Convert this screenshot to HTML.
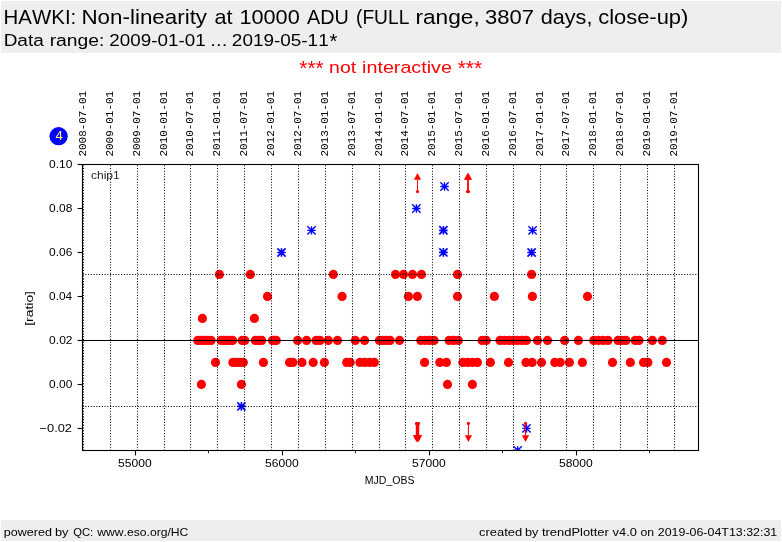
<!DOCTYPE html>
<html><head><meta charset="utf-8"><title>HAWKI: Non-linearity at 10000 ADU</title>
<style>html,body{margin:0;padding:0;background:#fff;}body{width:782px;height:542px;overflow:hidden;font-family:"Liberation Sans", sans-serif;}svg{display:block;will-change:transform;}text{font-family:"Liberation Sans", sans-serif;fill:#000;font-kerning:none;}.m{font-family:"Liberation Mono", monospace;}</style></head><body>
<svg width="782" height="542" viewBox="0 0 782 542">
<rect x="0" y="0" width="782" height="542" fill="#ffffff"/>
<rect x="1" y="1" width="780" height="52" fill="#eeeeee"/>
<rect x="1" y="520" width="780" height="21" fill="#eeeeee"/>
<text transform="translate(3.61 23.80) scale(1.0063 1.0000)" font-size="20.30">HAWKI:</text>
<text transform="translate(81.45 23.80) scale(1.1024 1.0000)" font-size="20.30">Non-linearity</text>
<text transform="translate(214.38 23.80) scale(1.0639 1.0000)" font-size="20.30">at</text>
<text transform="translate(239.47 23.80) scale(1.0674 1.0000)" font-size="20.30">10000</text>
<text transform="translate(307.05 23.80) scale(0.9767 1.0000)" font-size="20.30">ADU</text>
<text transform="translate(356.00 23.80) scale(0.9457 1.0000)" font-size="20.30">(FULL</text>
<text transform="translate(415.43 23.80) scale(1.1176 1.0000)" font-size="20.30">range,</text>
<text transform="translate(485.07 23.80) scale(1.0844 1.0000)" font-size="20.30">3807</text>
<text transform="translate(540.68 23.80) scale(1.0671 1.0000)" font-size="20.30">days,</text>
<text transform="translate(598.17 23.80) scale(1.0810 1.0000)" font-size="20.30">close-up)</text>
<text transform="translate(3.63 45.60) scale(1.1921 1.0000)" font-size="15.95">Data</text>
<text transform="translate(49.64 45.60) scale(1.2118 1.0000)" font-size="15.95">range:</text>
<text transform="translate(109.26 45.60) scale(1.1833 1.0000)" font-size="15.95">2009-01-01</text>
<text transform="translate(210.25 45.60) scale(1.2875 1.0000)" font-size="15.95">...</text>
<text transform="translate(231.85 45.60) scale(1.1871 1.0000)" font-size="15.95">2019-05-11</text>
<text transform="translate(329.45 47.90) scale(1.0243 1.0000)" font-size="19.80">*</text>
<text transform="translate(329.09 73.40) scale(1.2205 1.0000)" font-size="15.95" style="fill:#ff0000">not</text>
<text transform="translate(362.07 73.40) scale(1.2363 1.0000)" font-size="15.95" style="fill:#ff0000">interactive</text>
<text transform="translate(299.34 75.30) scale(1.0073 1.0000)" font-size="20.60" style="fill:#ff0000">***</text>
<text transform="translate(457.63 75.30) scale(1.0202 1.0000)" font-size="20.60" style="fill:#ff0000">***</text>
<text transform="translate(3.78 535.70) scale(1.0835 1.0000)" font-size="11.60">powered</text>
<text transform="translate(54.96 535.70) scale(1.1087 1.0000)" font-size="11.60">by</text>
<text transform="translate(73.17 535.70) scale(0.9672 1.0000)" font-size="11.60">QC:</text>
<text transform="translate(97.23 535.70) scale(1.0482 1.0000)" font-size="11.60">www.eso.org/HC</text>
<text transform="translate(479.05 535.70) scale(1.1156 1.0000)" font-size="11.60">created</text>
<text transform="translate(524.88 535.70) scale(1.0912 1.0000)" font-size="11.60">by</text>
<text transform="translate(541.91 535.70) scale(1.1170 1.0000)" font-size="11.60">trendPlotter</text>
<text transform="translate(612.57 535.70) scale(1.1090 1.0000)" font-size="11.60">v4.0</text>
<text transform="translate(640.48 535.70) scale(1.0551 1.0000)" font-size="11.60">on</text>
<text transform="translate(657.78 535.70) scale(1.0712 1.0000)" font-size="11.60">2019-06-04T13:32:31</text>
<circle cx="58.6" cy="136.2" r="9.1" fill="#0000ff"/>
<text transform="translate(55.41 140.10) scale(1.0131 1.0000)" font-size="12.90" style="fill:#ffff66">4</text>
<defs><clipPath id="ax"><rect x="82.5" y="164.5" width="616.0" height="286.0"/></clipPath>
<g id="st" stroke="#0000ff" stroke-width="1.35" stroke-linecap="butt" fill="none"><path d="M-4.2 0H4.2M0 -4.2V4.2M-4.15 -4.15L4.15 4.15M-4.15 4.15L4.15 -4.15"/></g>
<g id="sb" stroke="#0000ff" stroke-width="1.65" stroke-linecap="butt" fill="none"><path d="M-4.3 0H4.3M0 -4.3V4.3M-4.1 -4.1L4.1 4.1M-4.1 4.1L4.1 -4.1"/></g>
</defs>
<g clip-path="url(#ax)">
<g fill="#ff0000">
<circle cx="201.4" cy="384.4" r="4.6"/>
<circle cx="241.4" cy="384.4" r="4.6"/>
<circle cx="447.5" cy="384.4" r="4.6"/>
<circle cx="472.4" cy="384.4" r="4.6"/>
<circle cx="215.5" cy="362.4" r="4.6"/>
<circle cx="232.9" cy="362.4" r="4.6"/>
<circle cx="236.4" cy="362.4" r="4.6"/>
<circle cx="239.8" cy="362.4" r="4.6"/>
<circle cx="243.3" cy="362.4" r="4.6"/>
<circle cx="263.4" cy="362.4" r="4.6"/>
<circle cx="289.6" cy="362.4" r="4.6"/>
<circle cx="292.9" cy="362.4" r="4.6"/>
<circle cx="302.0" cy="362.4" r="4.6"/>
<circle cx="313.2" cy="362.4" r="4.6"/>
<circle cx="324.4" cy="362.4" r="4.6"/>
<circle cx="346.7" cy="362.4" r="4.6"/>
<circle cx="350.2" cy="362.4" r="4.6"/>
<circle cx="359.9" cy="362.4" r="4.6"/>
<circle cx="364.7" cy="362.4" r="4.6"/>
<circle cx="369.5" cy="362.4" r="4.6"/>
<circle cx="374.3" cy="362.4" r="4.6"/>
<circle cx="424.6" cy="362.4" r="4.6"/>
<circle cx="439.8" cy="362.4" r="4.6"/>
<circle cx="446.4" cy="362.4" r="4.6"/>
<circle cx="462.9" cy="362.4" r="4.6"/>
<circle cx="467.7" cy="362.4" r="4.6"/>
<circle cx="472.5" cy="362.4" r="4.6"/>
<circle cx="477.4" cy="362.4" r="4.6"/>
<circle cx="490.4" cy="362.4" r="4.6"/>
<circle cx="508.5" cy="362.4" r="4.6"/>
<circle cx="526.0" cy="362.4" r="4.6"/>
<circle cx="532.1" cy="362.4" r="4.6"/>
<circle cx="541.5" cy="362.4" r="4.6"/>
<circle cx="554.8" cy="362.4" r="4.6"/>
<circle cx="560.2" cy="362.4" r="4.6"/>
<circle cx="569.4" cy="362.4" r="4.6"/>
<circle cx="582.4" cy="362.4" r="4.6"/>
<circle cx="612.5" cy="362.4" r="4.6"/>
<circle cx="630.3" cy="362.4" r="4.6"/>
<circle cx="643.6" cy="362.4" r="4.6"/>
<circle cx="647.9" cy="362.4" r="4.6"/>
<circle cx="666.5" cy="362.4" r="4.6"/>
<circle cx="197.7" cy="340.4" r="4.6"/>
<circle cx="201.0" cy="340.4" r="4.6"/>
<circle cx="204.4" cy="340.4" r="4.6"/>
<circle cx="207.8" cy="340.4" r="4.6"/>
<circle cx="211.1" cy="340.4" r="4.6"/>
<circle cx="221.1" cy="340.4" r="4.6"/>
<circle cx="224.0" cy="340.4" r="4.6"/>
<circle cx="226.8" cy="340.4" r="4.6"/>
<circle cx="229.7" cy="340.4" r="4.6"/>
<circle cx="232.6" cy="340.4" r="4.6"/>
<circle cx="242.1" cy="340.4" r="4.6"/>
<circle cx="244.8" cy="340.4" r="4.6"/>
<circle cx="255.3" cy="340.4" r="4.6"/>
<circle cx="258.5" cy="340.4" r="4.6"/>
<circle cx="261.7" cy="340.4" r="4.6"/>
<circle cx="272.5" cy="340.4" r="4.6"/>
<circle cx="274.4" cy="340.4" r="4.6"/>
<circle cx="276.3" cy="340.4" r="4.6"/>
<circle cx="297.6" cy="340.4" r="4.6"/>
<circle cx="306.6" cy="340.4" r="4.6"/>
<circle cx="316.1" cy="340.4" r="4.6"/>
<circle cx="320.0" cy="340.4" r="4.6"/>
<circle cx="328.3" cy="340.4" r="4.6"/>
<circle cx="337.5" cy="340.4" r="4.6"/>
<circle cx="355.3" cy="340.4" r="4.6"/>
<circle cx="364.6" cy="340.4" r="4.6"/>
<circle cx="379.4" cy="340.4" r="4.6"/>
<circle cx="383.0" cy="340.4" r="4.6"/>
<circle cx="386.5" cy="340.4" r="4.6"/>
<circle cx="390.1" cy="340.4" r="4.6"/>
<circle cx="399.5" cy="340.4" r="4.6"/>
<circle cx="420.8" cy="340.4" r="4.6"/>
<circle cx="425.2" cy="340.4" r="4.6"/>
<circle cx="429.7" cy="340.4" r="4.6"/>
<circle cx="434.1" cy="340.4" r="4.6"/>
<circle cx="449.1" cy="340.4" r="4.6"/>
<circle cx="453.7" cy="340.4" r="4.6"/>
<circle cx="458.3" cy="340.4" r="4.6"/>
<circle cx="482.1" cy="340.4" r="4.6"/>
<circle cx="486.3" cy="340.4" r="4.6"/>
<circle cx="500.0" cy="340.4" r="4.6"/>
<circle cx="504.4" cy="340.4" r="4.6"/>
<circle cx="508.8" cy="340.4" r="4.6"/>
<circle cx="513.2" cy="340.4" r="4.6"/>
<circle cx="517.6" cy="340.4" r="4.6"/>
<circle cx="522.0" cy="340.4" r="4.6"/>
<circle cx="526.4" cy="340.4" r="4.6"/>
<circle cx="537.5" cy="340.4" r="4.6"/>
<circle cx="547.5" cy="340.4" r="4.6"/>
<circle cx="564.6" cy="340.4" r="4.6"/>
<circle cx="578.4" cy="340.4" r="4.6"/>
<circle cx="593.7" cy="340.4" r="4.6"/>
<circle cx="598.5" cy="340.4" r="4.6"/>
<circle cx="603.3" cy="340.4" r="4.6"/>
<circle cx="608.0" cy="340.4" r="4.6"/>
<circle cx="618.0" cy="340.4" r="4.6"/>
<circle cx="622.0" cy="340.4" r="4.6"/>
<circle cx="626.0" cy="340.4" r="4.6"/>
<circle cx="635.2" cy="340.4" r="4.6"/>
<circle cx="639.0" cy="340.4" r="4.6"/>
<circle cx="652.4" cy="340.4" r="4.6"/>
<circle cx="662.3" cy="340.4" r="4.6"/>
<circle cx="202.4" cy="318.4" r="4.6"/>
<circle cx="254.4" cy="318.4" r="4.6"/>
<circle cx="267.5" cy="296.4" r="4.6"/>
<circle cx="342.1" cy="296.4" r="4.6"/>
<circle cx="408.4" cy="296.4" r="4.6"/>
<circle cx="417.4" cy="296.4" r="4.6"/>
<circle cx="457.5" cy="296.4" r="4.6"/>
<circle cx="494.4" cy="296.4" r="4.6"/>
<circle cx="532.4" cy="296.4" r="4.6"/>
<circle cx="587.5" cy="296.4" r="4.6"/>
<circle cx="219.4" cy="274.4" r="4.6"/>
<circle cx="250.3" cy="274.4" r="4.6"/>
<circle cx="333.3" cy="274.4" r="4.6"/>
<circle cx="395.5" cy="274.4" r="4.6"/>
<circle cx="403.5" cy="274.4" r="4.6"/>
<circle cx="412.5" cy="274.4" r="4.6"/>
<circle cx="421.5" cy="274.4" r="4.6"/>
<circle cx="457.5" cy="274.4" r="4.6"/>
<circle cx="531.6" cy="274.4" r="4.6"/>
</g>
<use href="#sb" x="241.4" y="406.4"/>
<use href="#sb" x="281.5" y="252.5"/>
<use href="#st" x="311.5" y="230.4"/>
<use href="#st" x="416.4" y="208.5"/>
<use href="#st" x="444.5" y="186.5"/>
<use href="#sb" x="443.4" y="230.3"/>
<use href="#sb" x="443.4" y="252.4"/>
<use href="#st" x="532.6" y="230.4"/>
<use href="#sb" x="531.6" y="252.5"/>
<use href="#st" x="517.6" y="450.4"/>
<use href="#st" x="526.5" y="428.4"/>
<path d="M417.5 173.0L413.9 179.8L421.1 179.8Z" fill="#ff0000"/>
<path d="M417.5 179.8V191.6" stroke="#ff0000" stroke-width="1.0" fill="none"/>
<circle cx="417.5" cy="191.6" r="1.6" fill="#ff0000"/>
<path d="M467.6 173.0L463.9 179.8L471.2 179.8Z" fill="#ff0000"/>
<path d="M467.6 179.8V191.6" stroke="#ff0000" stroke-width="1.0" fill="none"/>
<circle cx="467.6" cy="191.6" r="1.7" fill="#ff0000"/>
<path d="M468.4 173.0L464.8 179.8L472.1 179.8Z" fill="#ff0000"/>
<path d="M468.4 179.8V191.6" stroke="#ff0000" stroke-width="1.0" fill="none"/>
<circle cx="468.4" cy="191.6" r="1.7" fill="#ff0000"/>
<path d="M416.4 441.9L412.9 435.3L419.9 435.3Z" fill="#ff0000"/>
<path d="M416.4 435.3V423.4" stroke="#ff0000" stroke-width="1.2" fill="none"/>
<circle cx="416.4" cy="423.4" r="1.5" fill="#ff0000"/>
<path d="M416.9 441.9L413.4 435.3L420.4 435.3Z" fill="#ff0000"/>
<path d="M416.9 435.3V423.4" stroke="#ff0000" stroke-width="1.2" fill="none"/>
<circle cx="416.9" cy="423.4" r="1.5" fill="#ff0000"/>
<path d="M417.5 441.9L414.0 435.3L421.0 435.3Z" fill="#ff0000"/>
<path d="M417.5 435.3V423.4" stroke="#ff0000" stroke-width="1.2" fill="none"/>
<circle cx="417.5" cy="423.4" r="1.5" fill="#ff0000"/>
<path d="M418.1 441.9L414.6 435.3L421.6 435.3Z" fill="#ff0000"/>
<path d="M418.1 435.3V423.4" stroke="#ff0000" stroke-width="1.2" fill="none"/>
<circle cx="418.1" cy="423.4" r="1.5" fill="#ff0000"/>
<path d="M418.6 441.9L415.1 435.3L422.1 435.3Z" fill="#ff0000"/>
<path d="M418.6 435.3V423.4" stroke="#ff0000" stroke-width="1.2" fill="none"/>
<circle cx="418.6" cy="423.4" r="1.5" fill="#ff0000"/>
<path d="M468.4 441.9L464.8 435.3L472.0 435.3Z" fill="#ff0000"/>
<path d="M468.4 435.3V423.4" stroke="#ff0000" stroke-width="1.0" fill="none"/>
<circle cx="468.4" cy="423.4" r="1.6" fill="#ff0000"/>
<path d="M525.5 441.9L521.9 435.3L529.1 435.3Z" fill="#ff0000"/>
<path d="M525.5 435.3V423.4" stroke="#ff0000" stroke-width="1.2" fill="none"/>
<circle cx="525.5" cy="423.4" r="1.6" fill="#ff0000"/>
</g>
<g stroke="#000" stroke-width="1.04" stroke-dasharray="1.04 1.72" fill="none">
<path d="M83.50 450.5V164.5"/>
<path d="M110.50 450.5V164.5"/>
<path d="M137.50 450.5V164.5"/>
<path d="M164.50 450.5V164.5"/>
<path d="M190.50 450.5V164.5"/>
<path d="M217.50 450.5V164.5"/>
<path d="M244.50 450.5V164.5"/>
<path d="M271.50 450.5V164.5"/>
<path d="M298.50 450.5V164.5"/>
<path d="M325.50 450.5V164.5"/>
<path d="M352.50 450.5V164.5"/>
<path d="M379.50 450.5V164.5"/>
<path d="M405.50 450.5V164.5"/>
<path d="M432.50 450.5V164.5"/>
<path d="M459.50 450.5V164.5"/>
<path d="M486.50 450.5V164.5"/>
<path d="M513.50 450.5V164.5"/>
<path d="M540.50 450.5V164.5"/>
<path d="M566.50 450.5V164.5"/>
<path d="M593.50 450.5V164.5"/>
<path d="M620.50 450.5V164.5"/>
<path d="M647.50 450.5V164.5"/>
<path d="M674.50 450.5V164.5"/>
<path d="M82.5 274.50H698.5"/>
<path d="M82.5 406.50H698.5"/>
</g>
<path d="M82.5 340.50H698.5" stroke="#000" stroke-width="1.1" fill="none"/>
<rect x="82.5" y="164.5" width="616.0" height="286.0" fill="none" stroke="#000" stroke-width="1.1"/>
<g stroke="#000" stroke-width="1.1" fill="none">
<path d="M135.50 450.5v4.9"/>
<path d="M282.50 450.5v4.9"/>
<path d="M429.50 450.5v4.9"/>
<path d="M576.50 450.5v4.9"/>
<path d="M82.5 164.50h-4.9"/>
<path d="M82.5 208.50h-4.9"/>
<path d="M82.5 252.50h-4.9"/>
<path d="M82.5 296.50h-4.9"/>
<path d="M82.5 340.50h-4.9"/>
<path d="M82.5 384.50h-4.9"/>
<path d="M82.5 428.50h-4.9"/>
</g>
<g stroke="#000" stroke-width="0.85" fill="none">
<path d="M208.50 450.5v2.8"/>
<path d="M355.50 450.5v2.8"/>
<path d="M502.50 450.5v2.8"/>
<path d="M649.50 450.5v2.8"/>
</g>
<text transform="translate(118.02 466.90) scale(1.0431 1.0000)" font-size="11.60">55000</text>
<text transform="translate(265.02 466.90) scale(1.0431 1.0000)" font-size="11.60">56000</text>
<text transform="translate(412.02 466.90) scale(1.0431 1.0000)" font-size="11.60">57000</text>
<text transform="translate(559.02 466.90) scale(1.0431 1.0000)" font-size="11.60">58000</text>
<text transform="translate(49.12 168.00) scale(1.0294 1.0000)" font-size="11.60">0.10</text>
<text transform="translate(49.12 212.00) scale(1.0322 1.0000)" font-size="11.60">0.08</text>
<text transform="translate(49.12 256.00) scale(1.0322 1.0000)" font-size="11.60">0.06</text>
<text transform="translate(49.12 300.00) scale(1.0239 1.0000)" font-size="11.60">0.04</text>
<text transform="translate(49.12 344.00) scale(1.0363 1.0000)" font-size="11.60">0.02</text>
<text transform="translate(49.12 388.00) scale(1.0294 1.0000)" font-size="11.60">0.00</text>
<text transform="translate(39.46 432.00) scale(1.1104 1.0000)" font-size="11.60">−0.02</text>
<text transform="translate(364.73 483.80) scale(0.9099 1.0000)" font-size="11.60">MJD_OBS</text>
<text transform="translate(32.50 325.77) rotate(-90) scale(1.1981 1)" font-size="11.60">[ratio]</text>
<text transform="translate(90.89 178.80) scale(1.0420 1.0000)" font-size="11.60" style="fill:#262626">chip1</text>
<text transform="translate(86.10 156.57) rotate(-90) scale(0.9292 1)" font-size="11.80" class="m">2008-07-01</text>
<text transform="translate(113.10 156.57) rotate(-90) scale(0.9292 1)" font-size="11.80" class="m">2009-01-01</text>
<text transform="translate(140.10 156.57) rotate(-90) scale(0.9292 1)" font-size="11.80" class="m">2009-07-01</text>
<text transform="translate(167.10 156.57) rotate(-90) scale(0.9292 1)" font-size="11.80" class="m">2010-01-01</text>
<text transform="translate(193.10 156.57) rotate(-90) scale(0.9292 1)" font-size="11.80" class="m">2010-07-01</text>
<text transform="translate(220.10 156.57) rotate(-90) scale(0.9292 1)" font-size="11.80" class="m">2011-01-01</text>
<text transform="translate(247.10 156.57) rotate(-90) scale(0.9292 1)" font-size="11.80" class="m">2011-07-01</text>
<text transform="translate(274.10 156.57) rotate(-90) scale(0.9292 1)" font-size="11.80" class="m">2012-01-01</text>
<text transform="translate(301.10 156.57) rotate(-90) scale(0.9292 1)" font-size="11.80" class="m">2012-07-01</text>
<text transform="translate(328.10 156.57) rotate(-90) scale(0.9292 1)" font-size="11.80" class="m">2013-01-01</text>
<text transform="translate(355.10 156.57) rotate(-90) scale(0.9292 1)" font-size="11.80" class="m">2013-07-01</text>
<text transform="translate(382.10 156.57) rotate(-90) scale(0.9292 1)" font-size="11.80" class="m">2014-01-01</text>
<text transform="translate(408.10 156.57) rotate(-90) scale(0.9292 1)" font-size="11.80" class="m">2014-07-01</text>
<text transform="translate(435.10 156.57) rotate(-90) scale(0.9292 1)" font-size="11.80" class="m">2015-01-01</text>
<text transform="translate(462.10 156.57) rotate(-90) scale(0.9292 1)" font-size="11.80" class="m">2015-07-01</text>
<text transform="translate(489.10 156.57) rotate(-90) scale(0.9292 1)" font-size="11.80" class="m">2016-01-01</text>
<text transform="translate(516.10 156.57) rotate(-90) scale(0.9292 1)" font-size="11.80" class="m">2016-07-01</text>
<text transform="translate(543.10 156.57) rotate(-90) scale(0.9292 1)" font-size="11.80" class="m">2017-01-01</text>
<text transform="translate(569.10 156.57) rotate(-90) scale(0.9292 1)" font-size="11.80" class="m">2017-07-01</text>
<text transform="translate(596.10 156.57) rotate(-90) scale(0.9292 1)" font-size="11.80" class="m">2018-01-01</text>
<text transform="translate(623.10 156.57) rotate(-90) scale(0.9292 1)" font-size="11.80" class="m">2018-07-01</text>
<text transform="translate(650.10 156.57) rotate(-90) scale(0.9292 1)" font-size="11.80" class="m">2019-01-01</text>
<text transform="translate(677.10 156.57) rotate(-90) scale(0.9292 1)" font-size="11.80" class="m">2019-07-01</text>
</svg>
</body></html>
